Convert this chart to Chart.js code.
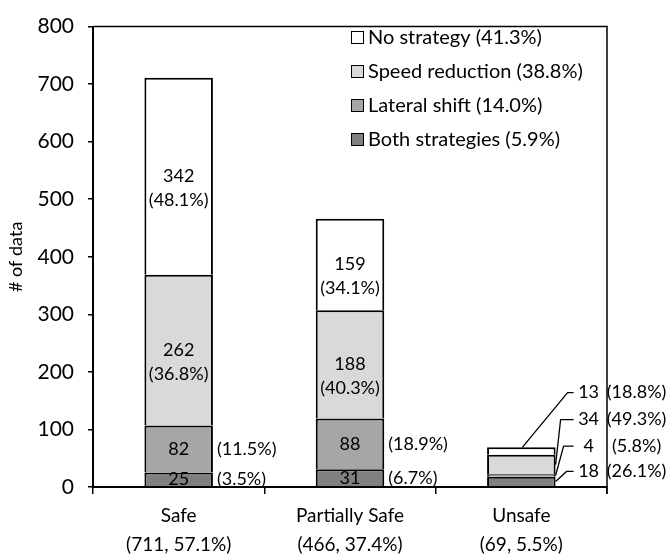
<!DOCTYPE html>
<html>
<head>
<meta charset="utf-8">
<script src="https://cdn.jsdelivr.net/npm/chart.js@4.4.1/dist/chart.umd.min.js"></script>
<style>
    html, body { margin: 0; padding: 0; background: #fff; }
    #wrap { width: 671px; height: 558px; }
</style>
</head>
<body>
<div id="wrap"><canvas id="strategyChart" width="671" height="558"></canvas></div>
<script>
// ===============================
// DATA
// ===============================
const categories = [
    ["Safe", "(711, 57.1%)"],
    ["Partially Safe", "(466, 37.4%)"],
    ["Unsafe", "(69, 5.5%)"]
];

const bothStrategies = [25, 31, 18];
const lateralShift = [82, 88, 4];
const speedReduction = [262, 188, 34];
const noStrategy = [342, 159, 13];

const bothPct = ["(3.5%)", "(6.7%)", "(26.1%)"];
const lateralPct = ["(11.5%)", "(18.9%)", "(5.8%)"];
const speedPct = ["(36.8%)", "(40.3%)", "(49.3%)"];
const noPct = ["(48.1%)", "(34.1%)", "(18.8%)"];

const seriesNames = ["Both strategies", "Lateral shift", "Speed reduction", "No strategy"];
const seriesShare = ["(5.9%)", "(14.0%)", "(38.8%)", "(41.3%)"];

const yMin = 0;
const yMax = 800;
const yStep = 100;

// ===============================
// STYLE / LAYOUT
// ===============================
const FONT = "Lato";
const colors = ["#808080", "#a6a6a6", "#d9d9d9", "#ffffff"];
const calloutCategory = 2;              // Unsafe bar uses leader lines
const calloutLabelValues = [27, 71, 117, 164]; // label heights on the y scale (bottom -> top)
const calloutCorner = [11, 8, 5, 12];   // px right of bar edge where leader bends

Chart.defaults.font.family = FONT;
Chart.defaults.color = "#000";

const pctLists = [bothPct, lateralPct, speedPct, noPct];

const labelPlugin = {
    id: "labelPlugin",
    afterDatasetsDraw(chart) {
        const ctx = chart.ctx;
        const area = chart.chartArea;
        const yScale = chart.scales.y;

        ctx.save();

        // frame: top and right side of the plot box
        ctx.strokeStyle = "#000";
        ctx.lineWidth = 1.5;
        ctx.beginPath();
        ctx.moveTo(area.left, area.top);
        ctx.lineTo(area.right, area.top);
        ctx.lineTo(area.right, area.bottom + 7);
        ctx.stroke();

        ctx.fillStyle = "#000";
        ctx.font = "18px " + FONT;
        ctx.textBaseline = "middle";

        chart.data.datasets.forEach((ds, d) => {
            const meta = chart.getDatasetMeta(d);
            meta.data.forEach((bar, j) => {
                const half = bar.width / 2;
                const cy = (bar.y + bar.base) / 2;
                const pct = pctLists[d][j];

                if (j === calloutCategory) {
                    const right = bar.x + half;
                    const ly = yScale.getPixelForValue(calloutLabelValues[d]);
                    const corner = right + calloutCorner[d];
                    ctx.lineWidth = 1.3;
                    ctx.beginPath();
                    if (d === 3) ctx.moveTo(bar.x + 1, bar.y);
                    else ctx.moveTo(right, cy);
                    ctx.lineTo(corner, ly);
                    ctx.lineTo(right + 18, ly);
                    ctx.stroke();

                    ctx.textAlign = "center";
                    ctx.fillText(String(ds.data[j]), right + 33, ly);
                    ctx.fillText(pct, right + 81, ly);
                    return;
                }

                ctx.textAlign = "center";
                ctx.fillText(String(ds.data[j]), bar.x, cy);
                if (d >= 2) {
                    ctx.fillText(pct, bar.x, cy + 24);
                } else {
                    ctx.textAlign = "left";
                    ctx.fillText(pct, bar.x + half + 4, cy);
                }
            });
        });

        // legend (top series first)
        const lx = 351;
        let ly = 37;
        ctx.font = "20px " + FONT;
        ctx.textAlign = "left";
        for (let d = seriesNames.length - 1; d >= 0; d--) {
            ctx.fillStyle = colors[d];
            ctx.fillRect(lx, ly - 6, 13, 13);
            ctx.lineWidth = 1;
            ctx.strokeStyle = "#000";
            ctx.strokeRect(lx + 0.5, ly - 5.5, 12, 12);
            ctx.fillStyle = "#000";
            ctx.fillText(seriesNames[d] + " " + seriesShare[d], lx + 17, ly + 1);
            ly += 34;
        }

        ctx.restore();
    }
};

const datasets = [bothStrategies, lateralShift, speedReduction, noStrategy].map((values, i) => ({
    label: seriesNames[i],
    data: values,
    backgroundColor: colors[i],
    borderColor: "#000",
    borderWidth: 2,
    borderSkipped: "start",
    barPercentage: 0.4,
    categoryPercentage: 1
}));

new Chart(document.getElementById("strategyChart"), {
    type: "bar",
    data: { labels: categories, datasets: datasets },
    options: {
        responsive: false,
        animation: false,
        layout: { padding: { top: 14, right: 64, left: 0, bottom: 0 } },
        plugins: {
            legend: { display: false },
            tooltip: { enabled: false }
        },
        scales: {
            x: {
                stacked: true,
                afterFit(scale) { scale.height = 71; },
                grid: {
                    offset: true,
                    drawOnChartArea: false,
                    tickLength: 7,
                    color: "#000",
                    lineWidth: 1.5
                },
                border: { color: "#000", width: 2 },
                ticks: {
                    font: { size: 19, lineHeight: 1.5 },
                    padding: 8,
                    maxRotation: 0
                }
            },
            y: {
                stacked: true,
                min: yMin,
                max: yMax,
                afterFit(scale) { scale.width = 93; },
                grid: {
                    drawOnChartArea: false,
                    tickLength: 5,
                    color: "#000",
                    lineWidth: 1.5
                },
                border: { color: "#000", width: 2 },
                ticks: {
                    stepSize: yStep,
                    font: { size: 21 },
                    padding: 14
                },
                title: {
                    display: true,
                    text: "# of data",
                    font: { size: 18 },
                    padding: { top: 5, bottom: 0 }
                }
            }
        }
    },
    plugins: [labelPlugin]
});
</script>
</body>
</html>
